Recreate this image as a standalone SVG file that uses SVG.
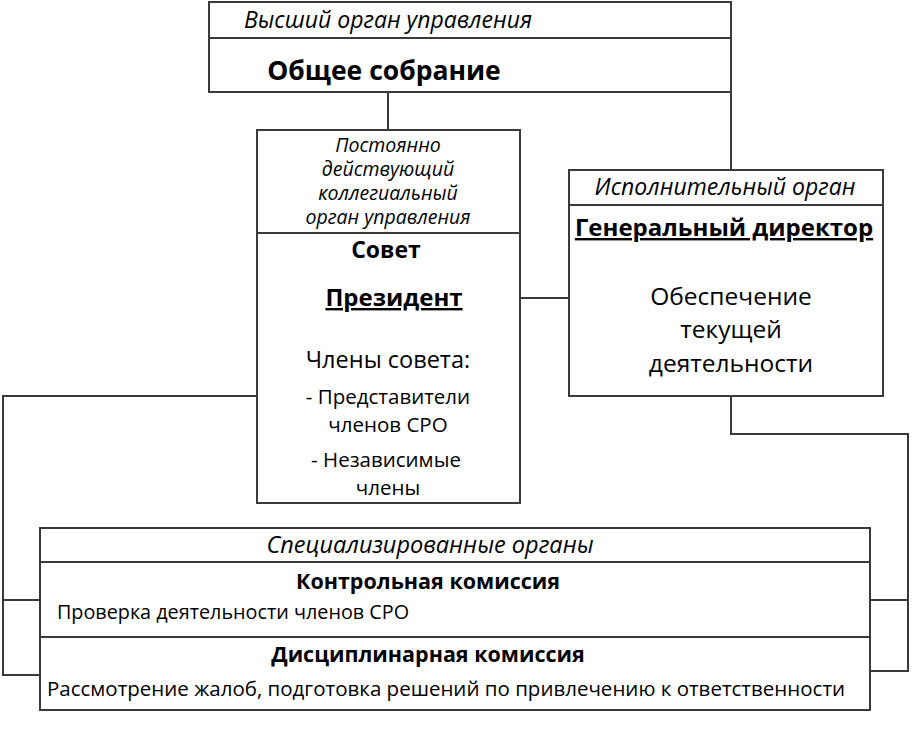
<svg xmlns="http://www.w3.org/2000/svg" width="912" height="732" viewBox="0 0 912 732">
<style>
.b{fill:#fff;stroke:#3a3a3a;stroke-width:2}
.c{fill:none;stroke:#3a3a3a;stroke-width:2}
text{font-family:"Open Sans","Noto Sans",sans-serif;fill:#000;text-anchor:middle}
.i{font-style:italic}
.h{font-weight:bold}
</style>
<rect width="912" height="732" fill="#fff"/>
<g id="connectors">
<path class="c" d="M388 92V130M731 92V170M520 298H569M257 396H3V675H40M3 600H40M731 396V434H908V671H870M908 600H870"/>
</g>
<g id="general">
<rect class="b" x="209" y="2" width="522" height="90"/>
<line class="c" x1="209" y1="38" x2="731" y2="38"/>
<text class="i" x="388" y="28" style="font-size:23px">Высший орган управления</text>
<text class="h" x="384" y="80" style="font-size:26.5px">Общее собрание</text>
</g>
<g id="sovet">
<rect class="b" x="257" y="130" width="263" height="373"/>
<line class="c" x1="257" y1="233" x2="520" y2="233"/>
<text class="i" x="388" y="152" style="font-size:19.5px">Постоянно</text>
<text class="i" x="388" y="176" style="font-size:19.5px">действующий</text>
<text class="i" x="388" y="200" style="font-size:19.5px">коллегиальный</text>
<text class="i" x="388" y="224" style="font-size:19.5px">орган управления</text>
<text class="h" x="386" y="258" style="font-size:23px">Совет</text>
<text class="h" x="394" y="306" style="font-size:24px" text-decoration="underline">Президент</text>
<text x="388" y="368" style="font-size:23.5px">Члены совета:</text>
<text x="388" y="404" style="font-size:20.5px">- Представители</text>
<text x="388" y="432" style="font-size:20.5px">членов СРО</text>
<text x="386" y="467" style="font-size:20.5px">- Независимые</text>
<text x="388" y="495" style="font-size:20.5px">члены</text>
</g>
<g id="director">
<rect class="b" x="569" y="170" width="314" height="226"/>
<line class="c" x1="569" y1="205" x2="883" y2="205"/>
<text class="i" x="725" y="195" style="font-size:23px">Исполнительный орган</text>
<text class="h" x="724" y="236" style="font-size:24px" text-decoration="underline">Генеральный директор</text>
<text x="731" y="305" style="font-size:24.5px">Обеспечение</text>
<text x="731" y="338" style="font-size:24.5px">текущей</text>
<text x="731" y="372" style="font-size:24.5px">деятельности</text>
</g>
<g id="special">
<rect class="b" x="40" y="528" width="830" height="182"/>
<line class="c" x1="40" y1="562" x2="870" y2="562"/>
<line class="c" x1="40" y1="637" x2="870" y2="637"/>
<text class="i" x="430" y="553" style="font-size:23.5px">Специализированные органы</text>
<text class="h" x="428" y="589" style="font-size:21.5px">Контрольная комиссия</text>
<text x="233" y="619" style="font-size:19.8px">Проверка деятельности членов СРО</text>
<text class="h" x="428" y="662" style="font-size:21.5px">Дисциплинарная комиссия</text>
<text x="446" y="696" style="font-size:20.5px">Рассмотрение жалоб, подготовка решений по привлечению к ответственности</text>
</g>
</svg>
